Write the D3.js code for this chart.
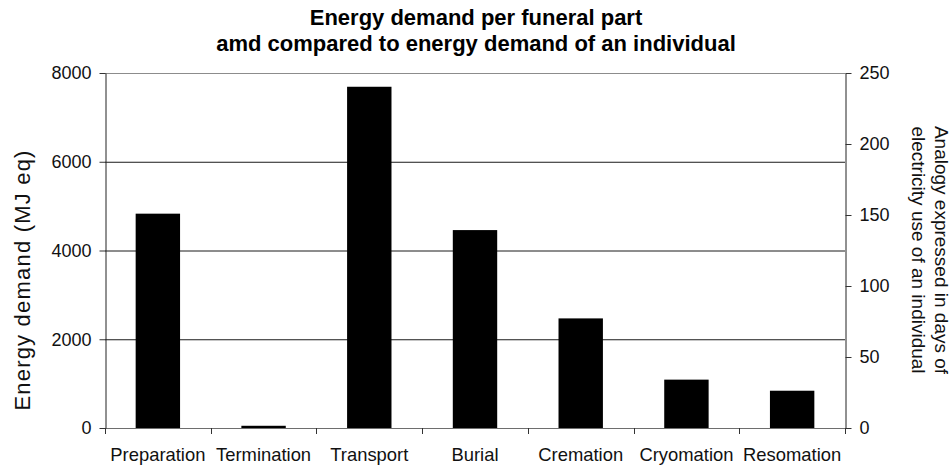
<!DOCTYPE html>
<html>
<head>
<meta charset="utf-8">
<script src="https://cdn.jsdelivr.net/npm/d3@7"></script>
<style>
	body { margin: 0; background: #fff; }
	svg { display: block; font-family: "Liberation Sans", Arial, sans-serif; }
</style>
</head>
<body>
<svg id="chart" width="952" height="466"></svg>
<script>
// Chart data
const categories = ['Preparation', 'Termination', 'Transport', 'Burial', 'Cremation', 'Cryomation', 'Resomation'];
const energy = [4830, 50, 7690, 4460, 2470, 1090, 840];
const leftTicks = [0, 2000, 4000, 6000, 8000];
const rightTicks = [0, 50, 100, 150, 200, 250];
const titleLines = ['Energy demand per funeral part', 'amd compared to energy demand of an individual'];
const rightTitleLines = ['Analogy expressed in days of', 'electricity use of an individual'];

let svg = d3.select('#chart');
// plot area edges
let
	plotLeft = 105,
	plotRight = 845,
	plotTop = 73,
	plotBottom = 428
;

let x = d3.scaleBand().domain(categories).range([plotLeft, plotRight]).padding(0);
let yLeft = d3.scaleLinear().domain([0, 8000]).range([plotBottom, plotTop]);
let yRight = d3.scaleLinear().domain([0, 250]).range([plotBottom, plotTop]);
let barW = x.bandwidth() * 0.42;

// gridlines (not at 0 and top)
svg.append('g')
	.selectAll('line')
	.data(leftTicks.filter((d) => d > 0 && d < 8000))
	.enter()
	.append('line')
	.attr('x1', plotLeft).attr('x2', plotRight)
	.attr('y1', (d) => yLeft(d) + 0.5).attr('y2', (d) => yLeft(d) + 0.5)
	.attr('stroke', '#1a1a1a');

// top border of plot area
svg.append('line')
	.attr('x1', plotLeft).attr('x2', plotRight)
	.attr('y1', plotTop + 0.5).attr('y2', plotTop + 0.5)
	.attr('stroke', '#8c8c8c');

// bars
svg.append('g')
	.selectAll('rect')
	.data(energy)
	.enter()
	.append('rect')
	.attr('x', (d, i) => x(categories[i]) + (x.bandwidth() - barW) / 2)
	.attr('y', (d) => yLeft(d))
	.attr('width', barW)
	.attr('height', (d) => plotBottom - yLeft(d))
	.attr('fill', '#000');

// bottom axis line + boundary ticks
svg.append('line')
	.attr('x1', plotLeft).attr('x2', plotRight)
	.attr('y1', plotBottom + 0.5).attr('y2', plotBottom + 0.5)
	.attr('stroke', '#6e6e6e');
let bounds = categories.map((c) => x(c)).concat([plotRight]);
svg.append('g')
	.selectAll('line')
	.data(bounds)
	.enter()
	.append('line')
	.attr('x1', (d) => Math.round(d) + 0.5).attr('x2', (d) => Math.round(d) + 0.5)
	.attr('y1', plotBottom).attr('y2', plotBottom + 6)
	.attr('stroke', '#333');

// category labels
svg.append('g')
	.attr('transform', `translate(0,${plotBottom})`)
	.call(d3.axisBottom(x).tickSize(0).tickPadding(20))
	.call((g) => g.select('.domain').remove())
	.call((g) => g.selectAll('text')
		.attr('font-size', 18.4).attr('font-family', null).attr('fill', '#111'));

// left axis
svg.append('g')
	.attr('transform', `translate(${plotLeft + 0.5},0)`)
	.call(d3.axisLeft(yLeft).tickValues(leftTicks).tickSize(6).tickSizeOuter(0).tickPadding(8).tickFormat(d3.format('d')))
	.call((g) => g.select('.domain').attr('stroke', '#222'))
	.call((g) => g.selectAll('.tick line').attr('stroke', '#333'))
	.call((g) => g.selectAll('text')
		.attr('font-size', 18).attr('font-family', null).attr('fill', '#111'));

// right axis
svg.append('g')
	.attr('transform', `translate(${plotRight + 0.5},0)`)
	.call(d3.axisRight(yRight).tickValues(rightTicks).tickSize(6).tickSizeOuter(0).tickPadding(8))
	.call((g) => g.select('.domain').attr('stroke', '#222'))
	.call((g) => g.selectAll('.tick line').attr('stroke', '#333'))
	.call((g) => g.selectAll('text')
		.attr('font-size', 18).attr('font-family', null).attr('fill', '#111'));

// title
svg.append('g')
	.selectAll('text')
	.data(titleLines)
	.enter()
	.append('text')
	.attr('x', 476)
	.attr('y', (d, i) => 25 + i * 26)
	.attr('text-anchor', 'middle')
	.attr('font-size', 22)
	.attr('font-weight', 'bold')
	.attr('fill', '#000')
	.text((d) => d);

// left axis title
svg.append('text')
	.attr('transform', 'translate(22,280) rotate(-90)')
	.attr('text-anchor', 'middle')
	.attr('dy', '0.35em')
	.attr('font-size', 22)
	.attr('letter-spacing', 1.2)
	.attr('fill', '#111')
	.text('Energy demand (MJ eq)');

// right axis title, two lines reading downwards
svg.append('g')
	.selectAll('text')
	.data(rightTitleLines)
	.enter()
	.append('text')
	.attr('transform', (d, i) => `translate(${942 - i * 23},250) rotate(90)`)
	.attr('text-anchor', 'middle')
	.attr('dy', '0.35em')
	.attr('font-size', 19)
	.attr('fill', '#111')
	.text((d) => d);
</script>
</body>
</html>
